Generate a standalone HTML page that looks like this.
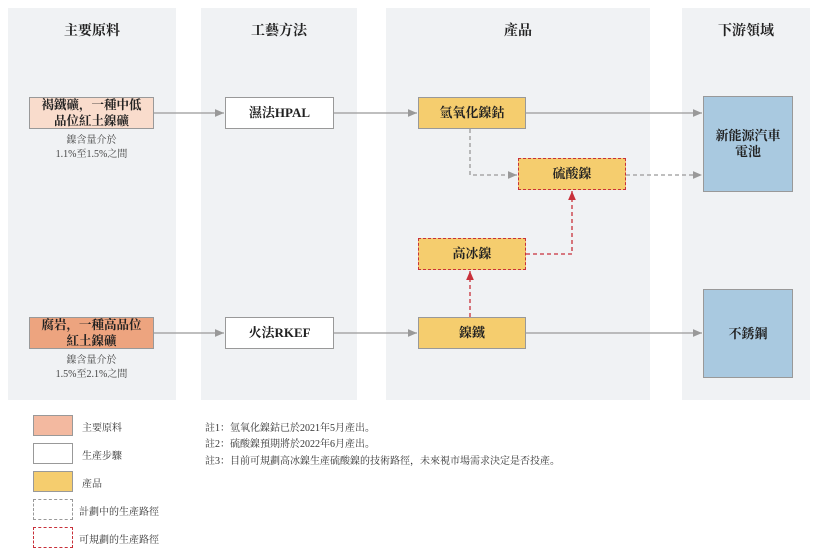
<!DOCTYPE html>
<html><head><meta charset="utf-8"><style>
body{margin:0;width:818px;height:557px;background:#fff;font-family:"Liberation Serif","Noto Serif CJK SC",serif;overflow:hidden;position:relative}
.col{position:absolute;top:8px;height:392px;background:#f0f2f4}
.h{position:absolute;top:20px;font-size:14px;font-weight:bold;color:#222;text-align:center}
.b{position:absolute;box-sizing:border-box;display:flex;align-items:center;justify-content:center;text-align:center;font-size:13px;font-weight:bold;color:#222;line-height:16px}
.s{border:1.5px solid #999}
.t{position:absolute;font-size:10px;color:#444;text-align:center;line-height:14px}
.n{position:absolute;left:205px;font-size:10px;color:#333}
.lg{position:absolute;left:82px;font-size:10px;color:#333}
</style></head><body>
<div class="col" style="left:8px;width:168px"></div>
<div class="col" style="left:201px;width:156px"></div>
<div class="col" style="left:386px;width:264px"></div>
<div class="col" style="left:682px;width:128px"></div>
<div class="h" style="left:8px;width:168px">主要原料</div>
<div class="h" style="left:201px;width:156px">工藝方法</div>
<div class="h" style="left:386px;width:264px">產品</div>
<div class="h" style="left:682px;width:128px">下游領域</div>

<svg width="818" height="557" style="position:absolute;left:0;top:0">
<defs>
<marker id="g" markerWidth="8" markerHeight="8" refX="7" refY="4" orient="auto"><path d="M0,1 L7,4 L0,7z" fill="#999"/></marker>
<marker id="r" markerWidth="8" markerHeight="8" refX="7" refY="4" orient="auto"><path d="M0,1 L7,4 L0,7z" fill="#c8303a"/></marker>
</defs>
<g stroke="#999" stroke-width="1.3" fill="none">
<line x1="154" y1="113" x2="224" y2="113" marker-end="url(#g)"/>
<line x1="334" y1="113" x2="417" y2="113" marker-end="url(#g)"/>
<line x1="526" y1="113" x2="702" y2="113" marker-end="url(#g)"/>
<line x1="154" y1="333" x2="224" y2="333" marker-end="url(#g)"/>
<line x1="334" y1="333" x2="417" y2="333" marker-end="url(#g)"/>
<line x1="526" y1="333" x2="702" y2="333" marker-end="url(#g)"/>
<polyline points="470,129 470,175 517,175" stroke-dasharray="4,3" marker-end="url(#g)"/>
<line x1="626" y1="175" x2="702" y2="175" stroke-dasharray="4,3" marker-end="url(#g)"/>
</g>
<g stroke="#c8303a" stroke-width="1.3" fill="none" stroke-dasharray="4,3">
<line x1="470" y1="317" x2="470" y2="271" marker-end="url(#r)"/>
<polyline points="526,254 572,254 572,191" marker-end="url(#r)"/>
</g>
</svg>

<div class="b s" style="left:29px;top:97px;width:125px;height:32px;background:#f9dccc;font-size:12.5px">褐鐵礦，一種中低<br>品位紅土鎳礦</div>
<div class="t" style="left:29px;top:134px;width:125px">鎳含量介於<br>1.1%至1.5%之間</div>
<div class="b s" style="left:29px;top:317px;width:125px;height:32px;background:#eda47f;font-size:12.5px">腐岩，一種高品位<br>紅土鎳礦</div>
<div class="t" style="left:29px;top:354px;width:125px">鎳含量介於<br>1.5%至2.1%之間</div>
<div class="b s" style="left:225px;top:97px;width:109px;height:32px;background:#fff">濕法HPAL</div>
<div class="b s" style="left:225px;top:317px;width:109px;height:32px;background:#fff">火法RKEF</div>
<div class="b s" style="left:418px;top:97px;width:108px;height:32px;background:#f5cd6e">氫氧化鎳鈷</div>
<div class="b" style="left:518px;top:158px;width:108px;height:32px;background:#f5cd6e;border:1.5px dashed #c8303a">硫酸鎳</div>
<div class="b" style="left:418px;top:238px;width:108px;height:32px;background:#f5cd6e;border:1.5px dashed #c8303a">高冰鎳</div>
<div class="b s" style="left:418px;top:317px;width:108px;height:32px;background:#f5cd6e">鎳鐵</div>
<div class="b s" style="left:703px;top:96px;width:90px;height:96px;background:#a9c9e0">新能源汽車<br>電池</div>
<div class="b s" style="left:703px;top:289px;width:90px;height:89px;background:#a9c9e0">不銹鋼</div>

<div class="b s" style="left:33px;top:415px;width:40px;height:21px;background:#f3b9a0"></div>
<div class="b s" style="left:33px;top:443px;width:40px;height:21px;background:#fff"></div>
<div class="b s" style="left:33px;top:471px;width:40px;height:21px;background:#f5cd6e"></div>
<div class="b" style="left:33px;top:499px;width:40px;height:21px;border:1.3px dashed #999"></div>
<div class="b" style="left:33px;top:527px;width:40px;height:21px;border:1.3px dashed #c8303a"></div>
<div class="lg" style="top:419px">主要原料</div>
<div class="lg" style="top:447px">生產步驟</div>
<div class="lg" style="top:475px">產品</div>
<div class="lg" style="top:503px;left:79px">計劃中的生產路徑</div>
<div class="lg" style="top:531px;left:79px">可規劃的生產路徑</div>
<div class="n" style="top:419px">註1：氫氧化鎳鈷已於2021年5月產出。</div>
<div class="n" style="top:435px">註2：硫酸鎳預期將於2022年6月產出。</div>
<div class="n" style="top:452px">註3：目前可規劃高冰鎳生產硫酸鎳的技術路徑，未來視市場需求決定是否投產。</div>
</body></html>
